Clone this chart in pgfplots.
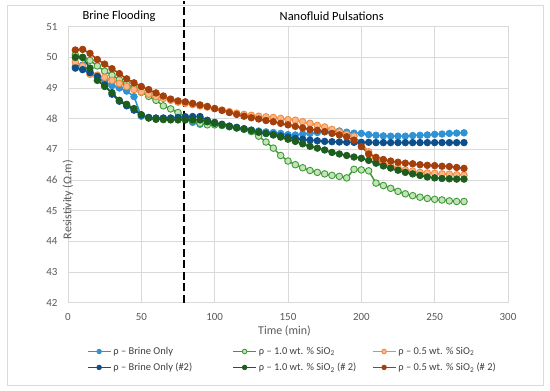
\documentclass[border=0pt]{standalone}
\usepackage{fontspec}
\setmainfont{Carlito}
\usepackage{pgfplots}
\pgfplotsset{compat=1.18}
\definecolor{lb}{HTML}{2E92D4}
\definecolor{db}{HTML}{0E4F8A}
\definecolor{lgE}{HTML}{3F9A36}
\definecolor{lgF}{HTML}{C2E4B8}
\definecolor{dg}{HTML}{1D5E1F}
\definecolor{orE}{HTML}{F28A3E}
\definecolor{orF}{HTML}{F9B78A}
\definecolor{dr}{HTML}{A23F0C}
\definecolor{txt}{HTML}{595959}
\definecolor{grd}{HTML}{D9D9D9}
\definecolor{legtxt}{HTML}{404040}
\begin{document}
\begin{tikzpicture}
\begin{axis}[
  at={(0,0)}, anchor=south west,
  width=440bp, height=276bp, scale only axis,
  xmin=0, xmax=300, ymin=42, ymax=51,
  xtick={0,50,...,300}, ytick={42,43,...,51},
  grid=major, grid style={grd, line width=0.75bp},
  axis line style={grd, line width=0.75bp},
  major tick length=0pt,
  clip=false,
  /pgf/number format/assume math mode=true,
  tick label style={font=\fontsize{11}{13}\selectfont, text=txt},
  xticklabel style={yshift=-7bp},
  yticklabel style={xshift=-7bp},
  xlabel={Time (min)},
  ylabel={Resistivity (Ω.m)},
  xlabel style={at={(axis description cs:0.5,0)}, anchor=center, yshift=-28bp, xshift=-3.5bp, font=\fontsize{12}{14}\selectfont, text=txt},
  ylabel style={at={(axis description cs:0,0.5)}, anchor=center, xshift=-35bp, font=\fontsize{12}{14}\selectfont, text=txt},
  legend columns=3,
  legend cell align=left,
  legend style={at={(axis description cs:0.0425,-0.153)}, anchor=north west, draw=none, fill=none, inner sep=0pt, column sep=0pt, row sep=3bp, font=\fontsize{10.5}{12}\selectfont, text=legtxt},
  legend image code/.code={\draw[mark repeat=2,mark phase=2,#1,mark size=2.3bp] plot coordinates {(0bp,0bp) (11.5bp,0bp) (23bp,0bp)};},
  every axis plot/.append style={line width=1.5bp, mark size=3.3bp},
]
% rho - Brine Only
\addplot[color=lb, mark=*, mark options={fill=lb, draw=lb, line width=0.75bp}] table {
5 49.70
10 49.75
15 49.55
20 49.35
25 49.22
30 49.08
35 49.00
40 48.90
45 48.72
50 48.08
55 48.04
60 48.02
65 48.02
70 48.02
75 48.02
80 48.00
85 47.88
90 47.82
95 47.82
100 47.82
105 47.78
110 47.74
115 47.70
120 47.67
125 47.63
130 47.60
135 47.57
140 47.55
145 47.52
150 47.48
155 47.47
160 47.50
165 47.52
170 47.55
175 47.57
180 47.58
185 47.60
190 47.56
195 47.53
200 47.52
205 47.48
210 47.46
215 47.44
220 47.43
225 47.43
230 47.43
235 47.45
240 47.46
245 47.47
250 47.49
255 47.50
260 47.52
265 47.53
270 47.54
};
\addlegendentry{\makebox[117bp][l]{ρ – Brine Only}}
% rho - 1.0 wt% SiO2
\addplot[color=lgE, mark=*, mark options={fill=lgF, draw=lgE, line width=0.9bp}] table {
5 50.08
10 50.00
15 49.90
20 49.72
25 49.55
30 49.42
35 49.27
40 49.14
45 49.00
50 48.86
55 48.73
60 48.60
65 48.42
70 48.32
75 48.20
80 48.06
85 47.93
90 47.85
95 47.80
100 47.80
105 47.78
110 47.74
115 47.70
120 47.66
125 47.58
130 47.43
135 47.24
140 47.04
145 46.80
150 46.62
155 46.50
160 46.40
165 46.31
170 46.25
175 46.20
180 46.15
185 46.12
190 46.07
195 46.35
200 46.33
205 46.30
210 45.90
215 45.82
220 45.73
225 45.63
230 45.55
235 45.49
240 45.44
245 45.40
250 45.37
255 45.35
260 45.32
265 45.30
270 45.30
};
\addlegendentry{\makebox[111bp][l]{ρ – 1.0 wt. \% SiO\textsubscript{2}}}
% rho - 0.5 wt% SiO2
\addplot[color=orE, mark=*, mark options={fill=orF, draw=orE, line width=0.9bp}] table {
5 49.85
10 49.72
15 49.45
20 49.42
25 49.35
30 49.25
35 49.15
40 49.05
45 48.95
50 48.87
55 48.80
60 48.72
65 48.66
70 48.60
75 48.54
80 48.50
85 48.46
90 48.42
95 48.38
100 48.33
105 48.28
110 48.23
115 48.18
120 48.14
125 48.11
130 48.08
135 48.06
140 48.04
145 48.01
150 47.97
155 47.95
160 47.90
165 47.85
170 47.78
175 47.73
180 47.65
185 47.57
190 47.49
195 47.43
200 47.20
205 46.92
210 46.70
215 46.54
220 46.47
225 46.39
230 46.33
235 46.29
240 46.25
245 46.23
250 46.22
255 46.20
260 46.19
265 46.17
270 46.16
};
\addlegendentry{\makebox[108bp][l]{ρ – 0.5 wt. \% SiO\textsubscript{2}}}
% rho - Brine Only (#2)
\addplot[color=db, mark=*, mark options={fill=db, draw=db, line width=0.75bp}] table {
5 49.65
10 49.60
15 49.50
20 49.38
25 49.10
30 48.80
35 48.57
40 48.42
45 48.28
50 48.12
55 48.04
60 48.02
65 48.02
70 48.02
75 48.04
80 48.06
85 48.07
90 48.07
95 47.95
100 47.88
105 47.82
110 47.76
115 47.72
120 47.67
125 47.62
130 47.56
135 47.52
140 47.48
145 47.44
150 47.40
155 47.36
160 47.33
165 47.30
170 47.28
175 47.26
180 47.25
185 47.24
190 47.23
195 47.23
200 47.23
205 47.23
210 47.22
215 47.22
220 47.22
225 47.22
230 47.22
235 47.22
240 47.22
245 47.22
250 47.22
255 47.22
260 47.22
265 47.22
270 47.22
};
\addlegendentry{\makebox[117bp][l]{ρ – Brine Only (\#2)}}
% rho - 1.0 wt% SiO2 (#2)
\addplot[color=dg, mark=*, mark options={fill=dg, draw=dg, line width=0.75bp}] table {
5 50.00
10 50.00
15 49.65
20 49.25
25 49.05
30 48.85
35 48.60
40 48.47
45 48.33
50 48.13
55 48.02
60 47.98
65 47.97
70 47.96
75 47.96
80 47.96
85 47.96
90 47.96
95 47.90
100 47.85
105 47.80
110 47.75
115 47.70
120 47.66
125 47.62
130 47.57
135 47.52
140 47.47
145 47.40
150 47.33
155 47.26
160 47.18
165 47.10
170 47.04
175 46.98
180 46.90
185 46.85
190 46.80
195 46.75
200 46.71
205 46.64
210 46.55
215 46.46
220 46.39
225 46.32
230 46.25
235 46.20
240 46.15
245 46.10
250 46.07
255 46.05
260 46.04
265 46.03
270 46.03
};
\addlegendentry{\makebox[111bp][l]{ρ – 1.0 wt. \% SiO\textsubscript{2} (\# 2)}}
% rho - 0.5 wt% SiO2 (#2)
\addplot[color=dr, mark=*, mark options={fill=dr, draw=dr, line width=0.75bp}] table {
5 50.24
10 50.26
15 50.13
20 49.93
25 49.78
30 49.63
35 49.47
40 49.30
45 49.17
50 49.05
55 48.95
60 48.84
65 48.74
70 48.64
75 48.58
80 48.55
85 48.50
90 48.45
95 48.40
100 48.33
105 48.27
110 48.20
115 48.14
120 48.08
125 48.03
130 47.99
135 47.94
140 47.90
145 47.85
150 47.80
155 47.75
160 47.70
165 47.65
170 47.62
175 47.58
180 47.52
185 47.47
190 47.41
195 47.30
200 47.09
205 46.85
210 46.74
215 46.67
220 46.62
225 46.58
230 46.55
235 46.53
240 46.50
245 46.48
250 46.47
255 46.45
260 46.44
265 46.41
270 46.38
};
\addlegendentry{\makebox[108bp][l]{ρ – 0.5 wt. \% SiO\textsubscript{2} (\# 2)}}
\draw[black, line width=2bp, dash pattern=on 8bp off 3.5bp] (axis cs:79,42) -- (axis cs:79,51.85);
\node[font=\fontsize{12.5}{15}\selectfont, text=black] at (axis cs:34.8,51.33) {Brine Flooding};
\node[font=\fontsize{12.5}{15}\selectfont, text=black] at (axis cs:179.8,51.33) {Nanofluid Pulsations};
\end{axis}
\pgfresetboundingbox
\path[use as bounding box] (-68bp,-88.3bp) rectangle (482bp,302.7bp);
\draw[grd, line width=0.75bp] (-61bp,-82.3bp) rectangle (475bp,297.7bp);
\end{tikzpicture}
\end{document}
